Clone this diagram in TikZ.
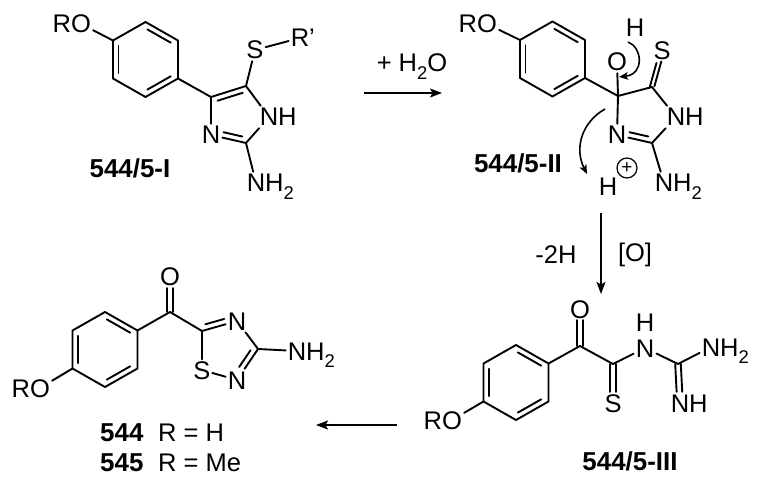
\documentclass[tikz,border=0pt]{standalone}
\usepackage{fontspec}
\setmainfont{Liberation Sans}
\usetikzlibrary{calc,arrows.meta}
\newcommand{\subtwo}{\raisebox{-0.3em}{\fontsize{18.5pt}{19pt}\selectfont 2}}
\tikzset{
  x=1bp,y=-1bp,
  bond/.style={line width=1.9bp,line cap=round,line join=round,black},
  atom/.style={font=\fontsize{25.6pt}{27pt}\selectfont,inner sep=2bp,text height=18bp,text depth=0pt},
  lbl/.style={font=\fontsize{26pt}{27pt}\selectfont\bfseries,inner sep=0pt,text height=18bp,text depth=0pt},
  txt/.style={font=\fontsize{25.6pt}{27pt}\selectfont,inner sep=0pt,text height=18bp,text depth=0pt},
  rxn/.style={line width=1.3bp,-{Stealth[length=12bp,width=9bp,inset=2.5bp]}},
  curly/.style={line width=1.6bp,-{Stealth[length=9bp,width=7.5bp,inset=2bp]}},
}
% inner line of a double bond
\newcommand{\dbl}[5]{\draw[bond] ($(#1)!#4!(#2)!5.5bp!#3:(#2)$) -- ($(#2)!#5!(#1)!5.5bp!-#3:(#1)$);}
% symmetric double bond
\newcommand{\symb}[4]{%
  \draw[bond,transform canvas={xshift=#3bp,yshift=#4bp}] (#1) -- (#2);
  \draw[bond,transform canvas={xshift=-#3bp,yshift=-#4bp}] (#1) -- (#2);}
% para-substituted benzene ring, vertices named #1a (top) ... clockwise
\newcommand{\benzene}[3]{%
  \coordinate (#1a) at (#2,#3-37.5);
  \coordinate (#1b) at (#2+32.5,#3-19);
  \coordinate (#1c) at (#2+32.5,#3+19);
  \coordinate (#1d) at (#2,#3+37.5);
  \coordinate (#1e) at (#2-32.5,#3+19);
  \coordinate (#1f) at (#2-32.5,#3-19);
  \draw[bond] (#1a)--(#1b)--(#1c)--(#1d)--(#1e)--(#1f)--cycle;
  \dbl{#1a}{#1b}{-90}{0.14}{0.14}
  \dbl{#1c}{#1d}{-90}{0.14}{0.14}
  \dbl{#1e}{#1f}{-90}{0.14}{0.14}}
\begin{document}
\begin{tikzpicture}
\useasboundingbox (0,0) rectangle (762,488);
% ---------- 544/5-I ----------
\benzene{A}{145.5}{59.5}
\node[atom] (AO) at (81,24) {\llap{R}O};
\draw[bond] (AO)--(Af);
\coordinate (A4) at (211,97);
\coordinate (A5) at (246,86);
\coordinate (A2) at (246,143);
\node[atom] (AN3) at (211,135) {N};
\node[atom] (AN1) at (269,117) {N\rlap{H}};
\node[atom] (AS) at (255,50) {S};
\node[atom] (AR) at (300,38) {R\rlap{'}};
\node[atom] (AN2) at (256,183) {N\rlap{H\subtwo}};
\draw[bond] (Ac)--(A4)--(A5)--(AN1)--(A2)--(AN3)--(A4);
\dbl{A4}{A5}{-90}{0.14}{0.14}
\dbl{A2}{AN3}{-90}{0.14}{0.32}
\draw[bond] (A5)--(AS);
\draw[bond] (AS)--(AR);
\draw[bond] (A2)--(AN2);
\node[lbl] (Alab) at (130,169) {544/5-I};
% ---------- arrow 1 ----------
\coordinate (r1s) at (364,93);
\coordinate (r1e) at (442,93);
\draw[rxn] (r1s)--(r1e);
\node[txt] (water) at (412,63) {+ H\subtwo O};
% ---------- 544/5-II ----------
\benzene{B}{552.5}{59}
\node[atom] (BO1) at (487,24) {\llap{R}O};
\draw[bond] (BO1)--(Bf);
\coordinate (B4) at (618,96);
\coordinate (B5) at (652,87);
\coordinate (B2) at (652,143);
\node[atom] (BOH) at (617,62) {O};
\node[atom] (BH) at (635,28) {H};
\node[atom] (BN3) at (617,135) {N};
\node[atom] (BN1) at (676,117) {N\rlap{H}};
\node[atom] (BS) at (662,51) {S};
\node[atom] (BN2) at (664,183) {N\rlap{H\subtwo}};
\node[atom] (BHp) at (608,187) {H};
\node[draw,circle,line width=1.2bp,minimum size=20bp,inner sep=0pt,font=\fontsize{19pt}{20pt}\selectfont] (Bplus) at (627,168) {+};
\draw[bond] (Bc)--(B4)--(B5)--(BN1)--(B2)--(BN3)--(B4);
\draw[bond] (B4)--(BOH);
\dbl{B2}{BN3}{-90}{0.14}{0.32}
\symb{B5}{BS}{2.4}{0.7}
\draw[bond] (B2)--(BN2);
\coordinate (c1s) at (628,42);
\coordinate (c1e) at (619,77);
\draw[curly] (c1s) .. controls (642,47) and (645,74) .. (c1e);
\coordinate (c2s) at (605,109);
\coordinate (c2e) at (587,174);
\draw[curly] (c2s) .. controls (582,122) and (574,148) .. (c2e);
\node[lbl] (Blab) at (518,164) {544/5-II};
% ---------- arrow 2 ----------
\coordinate (r2s) at (601,213);
\coordinate (r2e) at (601,294);
\draw[rxn] (r2s)--(r2e);
\node[txt] (minus) at (556,255) {-2H};
\node[txt] (ox) at (635,253) {[O]};
% ---------- 544/5-III ----------
\benzene{C}{516}{382.5}
\node[atom] (CO1) at (452,420) {\llap{R}O};
\draw[bond] (CO1)--(Ce);
\coordinate (C1) at (580,346);
\coordinate (C2) at (613,364);
\coordinate (C3) at (678,364);
\node[atom] (CO2) at (580,309) {O};
\node[atom] (CS) at (613,403) {S};
\node[atom] (CN) at (645,348) {N};
\node[atom] (CH) at (645,322.5) {H};
\node[atom] (CN2) at (711,347) {N\rlap{H\subtwo}};
\node[atom] (CN3) at (680,403) {N\rlap{H}};
\draw[bond] (Cb)--(C1)--(C2)--(CN)--(C3)--(CN2);
\symb{C1}{CO2}{2.8}{0}
\symb{C2}{CS}{2.8}{0}
\symb{C3}{CN3}{2.8}{0}
\node[lbl] (Clab) at (630,461) {544/5-III};
% ---------- arrow 3 ----------
\coordinate (r3s) at (397,425);
\coordinate (r3e) at (316,425);
\draw[rxn] (r3s)--(r3e);
% ---------- 544 / 545 ----------
\benzene{D}{105}{349.5}
\node[atom] (DO1) at (40,388) {\llap{R}O};
\draw[bond] (DO1)--(De);
\coordinate (D1) at (170,312);
\coordinate (D5) at (202,331);
\coordinate (D3) at (258,349);
\node[atom] (DO2) at (170,277) {O};
\node[atom] (DN4) at (237,321) {N};
\node[atom] (DN2) at (237,380) {N};
\node[atom,inner sep=1.5bp] (DS) at (202,370) {S};
\node[atom] (DN) at (297,351) {N\rlap{H\subtwo}};
\draw[bond] (Db)--(D1)--(D5)--(DN4)--(D3)--(DN2)--(DS)--(D5);
\symb{D1}{DO2}{2.8}{0}
\dbl{D5}{DN4}{90}{0.14}{0.32}
\dbl{D3}{DN2}{-90}{0.14}{0.32}
\draw[bond] (D3)--(DN);
\node[lbl,anchor=west] (Dl1) at (100,432) {544};
\node[txt,anchor=west] (Dt1) at (158,432) {R = H};
\node[lbl,anchor=west] (Dl2) at (100,462) {545};
\node[txt,anchor=west] (Dt2) at (158,462) {R = Me};
\end{tikzpicture}
\end{document}
